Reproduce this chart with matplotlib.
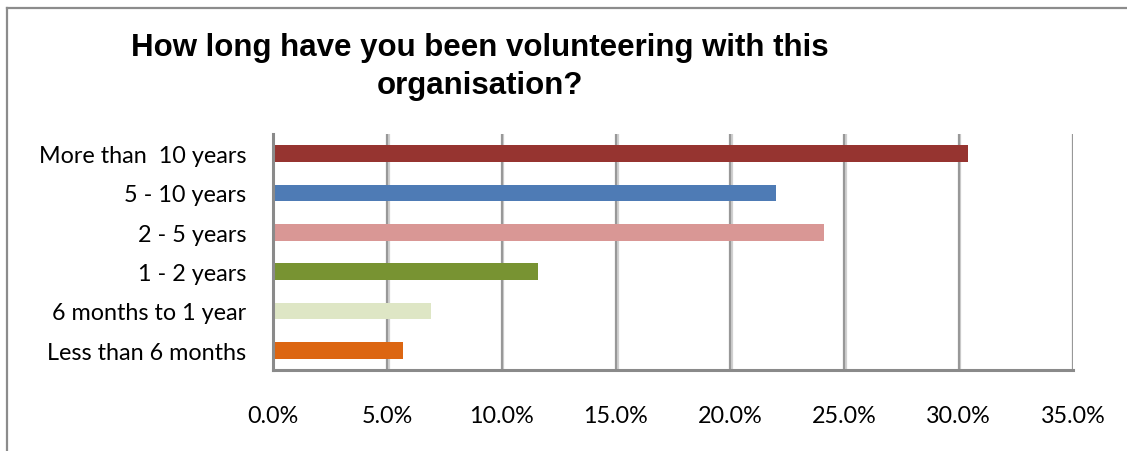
import matplotlib.pyplot as plt
from matplotlib.lines import Line2D
import matplotlib.patheffects as pe

# survey answers, listed from the top bar down
categories = ["More than  10 years", "5 - 10 years", "2 - 5 years",
              "1 - 2 years", "6 months to 1 year", "Less than 6 months"]
shares = [30.4, 22.0, 24.1, 11.6, 6.9, 5.7]
bar_colors = ["#963430", "#4e7bb5", "#d99795", "#789332", "#dee6c5", "#dc6612"]
xticks = [0, 5, 10, 15, 20, 25, 30, 35]

W, H = 1127, 452
fig = plt.figure(figsize=(W / 100, H / 100), dpi=100)
fig.patch.set_facecolor("white")

# chart frame (top and left edges show, the rest runs off the image)
fig.add_artist(Line2D([7 / W, 1.0], [1 - 9 / H, 1 - 9 / H], color="#8c8c8c", lw=1.6,
                      transform=fig.transFigure))
fig.add_artist(Line2D([7 / W, 7 / W], [0.0, 1 - 9 / H], color="#8c8c8c", lw=1.6,
                      transform=fig.transFigure))

ax = fig.add_axes([273 / W, 1 - 371 / H, 800 / W, 236 / H])

pos = list(range(len(categories)))[::-1]
ax.barh(pos, shares, height=0.43, color=bar_colors, zorder=3)

ax.set_xlim(0, 35)
ax.set_ylim(-0.5, len(categories) - 0.5)
ax.set_xticks(xticks)
ax.set_xticklabels([f"{t:.1f}%" for t in xticks])
ax.set_yticks(pos)
ax.set_yticklabels(categories)

for t in xticks[1:]:
    ax.axvline(t, color="#989898", lw=1.6, zorder=1,
               path_effects=[pe.SimpleLineShadow(offset=(1.2, 0), shadow_color="#d0d0d0", alpha=1),
                             pe.Normal()])

for side in ("top", "right"):
    ax.spines[side].set_visible(False)
for side in ("left", "bottom"):
    ax.spines[side].set_color("#8a8a8a")
    ax.spines[side].set_linewidth(2.2)
    ax.spines[side].set_zorder(4)

ax.tick_params(axis="x", length=0, pad=25)
ax.tick_params(axis="y", length=0, pad=19)
for lab in ax.get_xticklabels() + ax.get_yticklabels():
    lab.set_fontfamily("Lato")
    lab.set_fontsize(16.8)
    lab.set_color("#000000")

fig.text(480 / W, 1 - 67 / H, "How long have you been volunteering with this\norganisation?",
         ha="center", va="center", multialignment="center", linespacing=1.35,
         fontfamily="Liberation Sans", fontweight="bold", fontsize=22.5)

fig.savefig("out.png", dpi=100, facecolor="white")
